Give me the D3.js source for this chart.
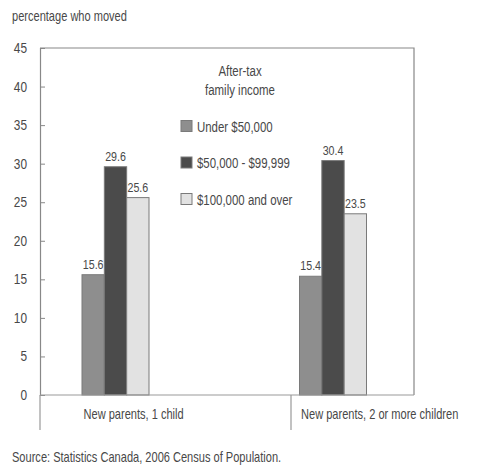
<!DOCTYPE html>
<html>
<head>
<meta charset="utf-8">
<script src="https://cdn.jsdelivr.net/npm/d3@7"></script>
<style>
  html, body { margin: 0; padding: 0; background: #fff; }
  svg text { font-family: "Liberation Sans", Arial, sans-serif; fill: #484848; }
</style>
</head>
<body>
<svg id="chart" width="496" height="474"></svg>
<script>
const categories = ["New parents, 1 child", "New parents, 2 or more children"];
const seriesNames = ["Under $50,000", "$50,000 - $99,999", "$100,000 and over"];
const under50 = [15.6, 15.4];
const mid50to100 = [29.6, 30.4];
const over100 = [25.6, 23.5];
const yTicks = [0, 5, 10, 15, 20, 25, 30, 35, 40, 45];
const legendTitle = ["After-tax", "family income"];
const yTitle = "percentage who moved";
const source = "Source: Statistics Canada, 2006 Census of Population.";

const seriesValues = [under50, mid50to100, over100];
const colors = ["#8e8e8e", "#4b4b4b", "#e2e2e2"];
const SX = 0.79; // horizontal condensing to mimic the narrow typeface

const svg = d3.select("#chart");
const plot = { left: 40, right: 414, top: 48, bottom: 395 };

function label(parent, x, y, txt, size, anchor) {
  parent.append("text")
    .attr("transform", `translate(${x},${y}) scale(${SX},1)`)
    .attr("text-anchor", anchor || "start")
    .attr("font-size", size)
    .text(txt);
}

const y = d3.scaleLinear().domain([0, 45]).range([plot.bottom, plot.top]);
const xGroup = d3.scalePoint().domain(categories).range([115.5, 333]);
const xInner = d3.scaleBand().domain(seriesNames).range([-33.5, 33.5]).padding(0);

// frame
svg.append("path")
  .attr("d", `M${plot.left},${plot.top}H${plot.right}V${plot.bottom}`)
  .attr("fill", "none").attr("stroke", "#888").attr("stroke-width", 1.2);

// bars
const barLayer = svg.append("g");
categories.forEach((c, ci) => {
  seriesNames.forEach((s, si) => {
    const v = seriesValues[si][ci];
    const x0 = xGroup(c) + xInner(s);
    barLayer.append("rect")
      .attr("x", x0)
      .attr("width", xInner.bandwidth())
      .attr("y", y(v))
      .attr("height", y(0) - y(v))
      .attr("fill", colors[si])
      .attr("stroke", "#7a7a7a").attr("stroke-width", 1);
    label(barLayer, x0 + xInner.bandwidth() / 2, y(v) - 6, v.toFixed(1), 13.5, "middle");
  });
});

// y axis
const yAxis = d3.axisRight(y).tickValues(yTicks).tickSize(5).tickFormat("");
const ya = svg.append("g").attr("transform", `translate(${plot.left},0)`).call(yAxis);
ya.select(".domain").attr("stroke", "#888").attr("stroke-width", 1.2);
ya.selectAll(".tick line").attr("stroke", "#888");
const yl = svg.append("g");
yTicks.forEach(t => label(yl, 27, y(t) + 5, t, 15, "end"));

// x axis baseline + category separators
svg.append("line").attr("x1", plot.left).attr("x2", plot.right)
  .attr("y1", plot.bottom).attr("y2", plot.bottom)
  .attr("stroke", "#999").attr("stroke-width", 1.2);
const sepX = [plot.left, 291];
svg.append("g").selectAll("line").data(sepX).join("line")
  .attr("x1", d => d).attr("x2", d => d)
  .attr("y1", plot.bottom).attr("y2", 430)
  .attr("stroke", "#999").attr("stroke-width", 1.2);

const xl = svg.append("g");
categories.forEach(c => label(xl, xGroup(c) + xInner.range()[0] + 1.5, 419, c, 14, "start"));

// legend
const lt = svg.append("g");
legendTitle.forEach((t, i) => label(lt, 240, 76 + i * 19, t, 14.5, "middle"));
const lg = svg.append("g");
seriesNames.forEach((s, i) => {
  const cy = 126 + i * 36.5;
  lg.append("rect").attr("x", 181).attr("y", cy - 5.5).attr("width", 11).attr("height", 11)
    .attr("fill", colors[i]).attr("stroke", "#7a7a7a");
  label(lg, 197, cy + 5.5, s, 14.5, "start");
});

// titles
label(svg, 12, 21, yTitle, 14, "start");
label(svg, 12, 462, source, 14, "start");
</script>
</body>
</html>
